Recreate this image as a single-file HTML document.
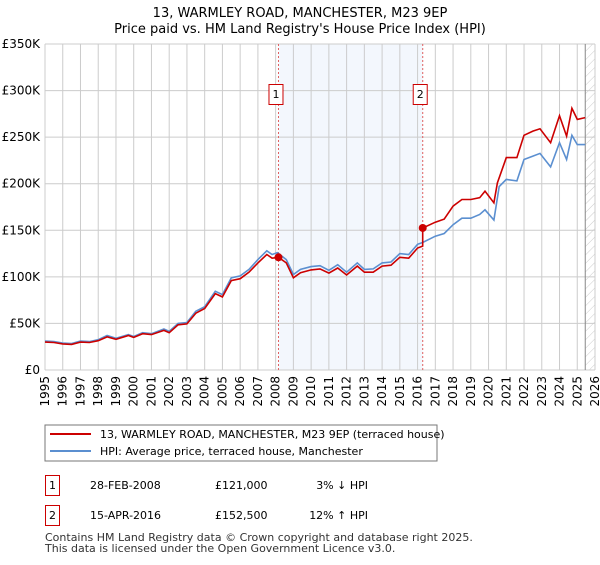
<!DOCTYPE html>
<html><head><meta charset="utf-8"><style>
body{margin:0;background:#fff;font-family:"Liberation Sans","DejaVu Sans",sans-serif}
svg text{font-family:"DejaVu Sans","Liberation Sans",sans-serif}
</style></head><body>
<svg id="c" width="600" height="560" xmlns="http://www.w3.org/2000/svg">
<defs><pattern id="hatch" width="6" height="6" patternUnits="userSpaceOnUse" patternTransform="rotate(45)"><line x1="0" y1="0" x2="0" y2="6" stroke="#ccc" stroke-width="1"/></pattern></defs>
<text x="300" y="17" text-anchor="middle" font-size="13" fill="#000">13, WARMLEY ROAD, MANCHESTER, M23 9EP</text>
<text x="300" y="33" text-anchor="middle" font-size="13" fill="#000">Price paid vs. HM Land Registry's House Price Index (HPI)</text>
<g id="grid"></g><g id="marks"></g>
<rect x="45" y="425" width="392" height="36" fill="#fff" stroke="#777"/>
<line x1="50" y1="434" x2="91" y2="434" stroke="#cc0000" stroke-width="2"/>
<text x="100" y="438" font-size="11">13, WARMLEY ROAD, MANCHESTER, M23 9EP (terraced house)</text>
<line x1="50" y1="451" x2="91" y2="451" stroke="#5b8fd0" stroke-width="2"/>
<text x="100" y="455" font-size="11">HPI: Average price, terraced house, Manchester</text>
<g font-size="11">
<rect x="45.5" y="475.5" width="14" height="20" fill="#fff" stroke="#cc0000"/><text x="52.5" y="489" text-anchor="middle">1</text>
<text x="90" y="489">28-FEB-2008</text><text x="215" y="489">£121,000</text><text x="368" y="489" text-anchor="end">3% ↓ HPI</text></g>
<g font-size="11">
<rect x="45.5" y="505.5" width="14" height="20" fill="#fff" stroke="#cc0000"/><text x="52.5" y="519" text-anchor="middle">2</text>
<text x="90" y="519">15-APR-2016</text><text x="215" y="519">£152,500</text><text x="368" y="519" text-anchor="end">12% ↑ HPI</text></g>
<text x="45" y="541" font-size="11" fill="#333">Contains HM Land Registry data © Crown copyright and database right 2025.</text>
<text x="45" y="552" font-size="11" fill="#333">This data is licensed under the Open Government Licence v3.0.</text>
</svg>
<script>
const yTicks=[0,50,100,150,200,250,300,350];
const yTickLabels=["£0","£50K","£100K","£150K","£200K","£250K","£300K","£350K"];
const years=[1995,1996,1997,1998,1999,2000,2001,2002,2003,2004,2005,2006,2007,2008,2009,2010,2011,2012,2013,2014,2015,2016,2017,2018,2019,2020,2021,2022,2023,2024,2025,2026];
const hpiDates=[1995,1995.5,1996,1996.5,1997,1997.5,1998,1998.5,1999,1999.7,2000,2000.5,2001,2001.7,2002,2002.5,2003,2003.5,2004,2004.6,2005,2005.5,2006,2006.5,2007,2007.5,2007.8,2008.1,2008.6,2009,2009.4,2010,2010.5,2011,2011.5,2012,2012.6,2013,2013.5,2014,2014.5,2015,2015.5,2016,2016.3,2017,2017.5,2018,2018.5,2019,2019.5,2019.8,2020.3,2020.6,2021,2021.6,2022,2022.5,2022.9,2023.5,2024,2024.4,2024.7,2025,2025.45];
const hpiValues=[31,30.5,29,28.5,31,30.5,32.5,37,34,38,36,40,39,44,41.5,50,51,63,68,84.5,81,99,101,108,118.5,128,124,126,118.5,102.5,108,111,112,107,113,105,115,108,108.5,115,116,125,124,135,137,143.7,146.5,156,163,163,167,172,161,197,204.6,203,226,229.7,232.5,218,244,226,252,242,242];
const priceDates=[1995,1995.5,1996,1996.5,1997,1997.5,1998,1998.5,1999,1999.7,2000,2000.5,2001,2001.7,2002,2002.5,2003,2003.5,2004,2004.6,2005,2005.5,2006,2006.5,2007,2007.5,2007.8,2008.16,2008.6,2009,2009.4,2010,2010.5,2011,2011.5,2012,2012.6,2013,2013.5,2014,2014.5,2015,2015.5,2016,2016.29,2016.29,2017,2017.5,2018,2018.5,2019,2019.5,2019.8,2020.3,2020.5,2021,2021.6,2022,2022.5,2022.9,2023.5,2024,2024.4,2024.7,2025,2025.45];
const priceValues=[30,29.5,28,27.5,30,29.5,31.5,35.5,33,37,35,39,38,42.5,40,48.5,49.5,61,66,82,78.5,96,98,105,115,124,120,121,115,99,104.5,107.5,108.5,104,109.5,102,111.5,105,105,111.5,112.5,121,120,131,133,152.5,158.7,162,176,183,183,185,192,179.5,201,228,228,252,256.5,259,244,273,251,281,269,271];
const sales=[{d:2008.16,v:121,n:"1"},{d:2016.29,v:152.5,n:"2"}];
const X0=45,X1=595,Y0=370,Y1=44;
const xs=t=>X0+(t-1995)/(2026-1995)*(X1-X0);
const ys=v=>Y0-v/350*(Y0-Y1);
const NS="http://www.w3.org/2000/svg";
function mk(tag,attrs,parent){const e=document.createElementNS(NS,tag);for(const k in attrs)e.setAttribute(k,attrs[k]);parent.appendChild(e);return e;}
const g=document.getElementById('grid'),m=document.getElementById('marks');
const shade=mk('rect',{x:xs(2008.16),y:Y1,width:xs(2016.29)-xs(2008.16),height:Y0-Y1,fill:'#eef3fc',opacity:0.7},g);


const hatch=mk('rect',{x:xs(2025.45),y:Y1,width:X1-xs(2025.45),height:Y0-Y1,fill:'url(#hatch)'},g);


yTicks.forEach((v,i)=>{
 const l=mk('line',{x1:X0,x2:X1,y1:ys(v),y2:ys(v),stroke:'#ccc','stroke-width':1},g);
 
 
 const t=mk('text',{x:40,y:ys(v)+4,'text-anchor':'end','font-size':12,fill:'#000'},g);
 t.textContent=yTickLabels[i];
 
 
});
years.forEach(yr=>{
 const x=xs(yr);
 const l=mk('line',{x1:x,x2:x,y1:Y1,y2:Y0,stroke:'#ccc','stroke-width':1},g);
 
 
 const t=mk('text',{x:0,y:0,'text-anchor':'end','font-size':12,fill:'#000',transform:`translate(${x+4},${Y0+6}) rotate(-90)`},g);
 t.textContent=yr;
 
 
});
const vl=mk('line',{x1:xs(2025.45),x2:xs(2025.45),y1:Y1,y2:Y0,stroke:'#888','stroke-width':1},g);


sales.forEach(s=>{
 const l=mk('line',{x1:xs(s.d),x2:xs(s.d),y1:Y1,y2:Y0,stroke:'#e06060','stroke-width':1,'stroke-dasharray':'2,2'},g);
 
 
});
const hp=mk('path',{d:hpiDates.map((t,i)=>(i?'L':'M')+xs(t).toFixed(1)+','+ys(hpiValues[i]).toFixed(1)).join(''),fill:'none',stroke:'#5b8fd0','stroke-width':1.6},m);


const pp=mk('path',{d:priceDates.map((t,i)=>(i?'L':'M')+xs(t).toFixed(1)+','+ys(priceValues[i]).toFixed(1)).join(''),fill:'none',stroke:'#cc0000','stroke-width':1.6},m);


sales.forEach(s=>{
 const c=mk('circle',{cx:xs(s.d),cy:ys(s.v),r:4,fill:'#cc0000'},m);
 
 
 const bx=mk('rect',{x:xs(s.d)-9.5,y:84.5,width:14,height:20,fill:'#fff',stroke:'#cc0000'},m);
 
 
 const t=mk('text',{x:xs(s.d)-2.5,y:98,'text-anchor':'middle','font-size':11},m);
 t.textContent=s.n;
 
 
});
</script>
</body></html>
